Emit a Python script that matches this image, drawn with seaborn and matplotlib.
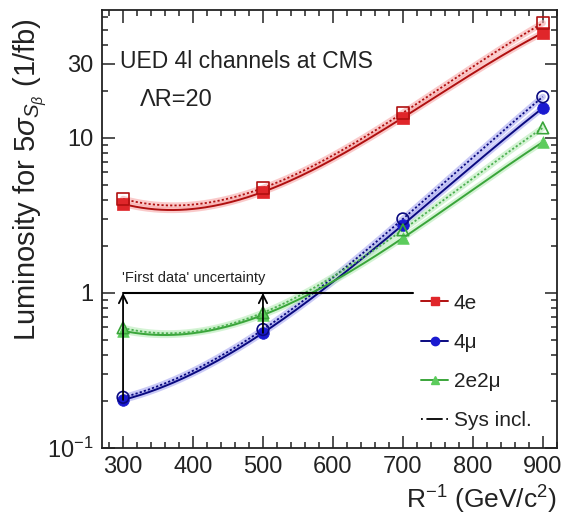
import numpy as np
import pandas as pd
import matplotlib
matplotlib.use("Agg")
import matplotlib.pyplot as plt
import seaborn as sns
from matplotlib.lines import Line2D
from matplotlib.ticker import FixedLocator, MultipleLocator, LogLocator, NullFormatter

# ---------------- data ----------------
mass = [300, 500, 700, 900]
lum_4e = [3.75, 4.48, 13.5, 47.6]
lum_4e_sys = [4.04, 4.75, 14.5, 55.0]
lum_4mu = [0.204, 0.552, 2.75, 15.6]
lum_4mu_sys = [0.212, 0.58, 3.0, 18.4]
lum_2e2mu = [0.569, 0.72, 2.26, 9.4]
lum_2e2mu_sys = [0.595, 0.745, 2.55, 11.6]
channels = ["4e", "4μ", "2e2μ"]
sys_label = "Sys incl."
xticks = [300, 400, 500, 600, 700, 800, 900]
yticks = [0.1, 1, 10, 30]
ytick_labels = ["10$^{-1}$", "1", "10", "30"]
uncert_x = [300, 715]
uncert_level = 1.0
arrow_x = [300, 500]
arrow_from = [lum_4mu[0], lum_4mu[1]]

# ---------------- style ----------------
sns.set_theme(style="ticks")
plt.rcParams["font.family"] = ["Liberation Sans", "DejaVu Sans"]
plt.rcParams["mathtext.fontset"] = "custom"
plt.rcParams["mathtext.rm"] = "Liberation Sans"
plt.rcParams["mathtext.it"] = "Liberation Sans:italic"
plt.rcParams["mathtext.bf"] = "Liberation Sans:bold"

fig = plt.figure(figsize=(5.67, 5.16), dpi=100)
ax = fig.add_axes([0.18, 0.132, 0.802, 0.849])

series = [
    ("4e", lum_4e, lum_4e_sys, "s", "#e0262a", "#b01010", "#f7a8a8"),
    ("4μ", lum_4mu, lum_4mu_sys, "o", "#1a1ad0", "#0a0a80", "#a8a8f0"),
    ("2e2μ", lum_2e2mu, lum_2e2mu_sys, "^", "#5ccc5c", "#3aa53a", "#b8ecb8"),
]

xs = np.linspace(300, 900, 200)
for name, vals, vals_sys, mk, mcol, lcol, halo in series:
    for v, dotted in ((vals, False), (vals_sys, True)):
        coef = np.polyfit(mass, np.log10(v), 3)
        curve = pd.DataFrame({"x": xs, "y": 10 ** np.polyval(coef, xs)})
        sns.lineplot(data=curve, x="x", y="y", ax=ax, color=halo, lw=4.5,
                     alpha=0.6, zorder=2)
        if dotted:
            sns.lineplot(data=curve, x="x", y="y", ax=ax,
                         color=lcol if name != "2e2μ" else "#4caf50",
                         lw=1.3, linestyle=(0, (1.2, 1.2)), zorder=3)
        else:
            sns.lineplot(data=curve, x="x", y="y", ax=ax, color=lcol, lw=1.4, zorder=3)
        pts = pd.DataFrame({"x": mass, "y": v})
        if dotted:
            sns.scatterplot(data=pts, x="x", y="y", ax=ax, marker=mk, s=70,
                            color=mcol, facecolors="none", edgecolors=lcol,
                            linewidths=1.2, zorder=5)
        else:
            sns.scatterplot(data=pts, x="x", y="y", ax=ax, marker=mk, s=70,
                            color=mcol, edgecolors=mcol, linewidths=0.5, zorder=4)

# first data uncertainty
ax.plot(uncert_x, [uncert_level, uncert_level], color="black", lw=1.5, zorder=6)
for xa, ya in zip(arrow_x, arrow_from):
    ax.annotate("", xy=(xa, uncert_level), xytext=(xa, ya),
                arrowprops=dict(arrowstyle="->,head_length=0.5,head_width=0.25",
                                color="black", lw=1.3, shrinkA=0, shrinkB=0),
                zorder=6)
ax.text(0.044, 0.388, "'First data' uncertainty", transform=ax.transAxes,
        fontsize=10.5, ha="left", va="center", color="#222222")

ax.text(0.04, 0.881, "UED 4l channels at CMS", transform=ax.transAxes,
        fontsize=16.5, ha="left", va="center", color="#222222")
ax.text(0.083, 0.795, "ΛR=20", transform=ax.transAxes,
        fontsize=17, ha="left", va="center", color="#222222")

# axes
ax.set_yscale("log")
ax.set_xlim(270, 920)
ax.set_ylim(0.1, 67)
ax.xaxis.set_major_locator(FixedLocator(xticks))
ax.xaxis.set_minor_locator(MultipleLocator(20))
ax.set_xticklabels([str(t) for t in xticks])
ax.yaxis.set_major_locator(FixedLocator(yticks))
ax.yaxis.set_minor_locator(LogLocator(base=10, subs=np.arange(2, 10)))
ax.yaxis.set_minor_formatter(NullFormatter())
ax.set_yticklabels(ytick_labels)
ax.tick_params(which="both", direction="in", top=True, right=True,
               width=1.1, colors="#222222", labelsize=17)
ax.tick_params(which="major", length=9, pad=6)
ax.tick_params(which="minor", length=4.5)
for sp in ax.spines.values():
    sp.set_linewidth(1.3)
    sp.set_color("#222222")

ax.set_ylabel(r"Luminosity for 5$\sigma_{S_{\beta}}$ (1/fb)", fontsize=21,
              va="center", color="#222222")
ax.yaxis.set_label_coords(-0.158, 0.612)
ax.set_xlabel(r"R$^{-1}$ (GeV/c$^{2}$)", fontsize=19, ha="right",
              va="center", color="#222222")
ax.xaxis.set_label_coords(1.0, -0.119)

handles = [
    Line2D([], [], color="#b01010", marker="s", markersize=6,
           markerfacecolor="#e0262a", markeredgecolor="#e0262a", lw=1.4),
    Line2D([], [], color="#0a0a80", marker="o", markersize=6,
           markerfacecolor="#1a1ad0", markeredgecolor="#1a1ad0", lw=1.4),
    Line2D([], [], color="#3aa53a", marker="^", markersize=6,
           markerfacecolor="#5ccc5c", markeredgecolor="#5ccc5c", lw=1.4),
    Line2D([], [], color="black", lw=1.3, linestyle=(0, (1, 2, 8, 0))),
]
leg = ax.legend(handles, channels + [sys_label], loc="upper left",
                bbox_to_anchor=(0.702, 0.352), frameon=False, fontsize=15,
                handlelength=1.3, handletextpad=0.25, labelspacing=0.97,
                borderpad=0, borderaxespad=0)
for t in leg.get_texts():
    t.set_color("#222222")

fig.savefig("out.png", dpi=100)
